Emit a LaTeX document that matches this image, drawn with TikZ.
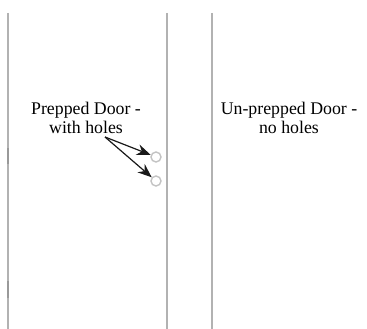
\documentclass[tikz,border=0pt]{standalone}
\usepackage{fontspec}
\setmainfont{Liberation Serif}
\usetikzlibrary{arrows.meta}
\definecolor{doorgray}{RGB}{178,178,178}
\definecolor{holegray}{RGB}{195,195,195}
\tikzset{
  doorline/.style={line width=1.5pt,color=doorgray},
  hole/.style={circle,draw=holegray,line width=1.4pt,minimum size=10pt,inner sep=0pt},
  doorlabel/.style={align=center,inner sep=0pt,font=\fontsize{17.8}{19}\selectfont},
  pointer/.style={-{Stealth[length=14pt,width=11pt]},line width=1.2pt,color=black!90}
}
\begin{document}
\begin{tikzpicture}[x=1pt,y=-1pt]
\useasboundingbox (0,0) rectangle (367,329);
\draw[doorline] (8,13)--(8,329);
\draw[doorline] (167,13)--(167,329);
\draw[doorline] (212,13)--(212,329);
\draw[line width=2pt,color=gray!80] (8,148)--(8,164);
\draw[line width=2pt,color=gray!80] (8,281)--(8,298);
\node[doorlabel] (prepped) at (86,117.5) {Prepped Door -\\with holes};
\node[doorlabel] (unprepped) at (289,117.5) {Un-prepped Door -\\no holes};
\node[hole] (holea) at (156,157) {};
\node[hole] (holeb) at (156,181) {};
\coordinate (fork) at (105,137);
\draw[pointer] (fork)--(holea);
\draw[pointer] (fork)--(holeb);
\end{tikzpicture}
\end{document}
